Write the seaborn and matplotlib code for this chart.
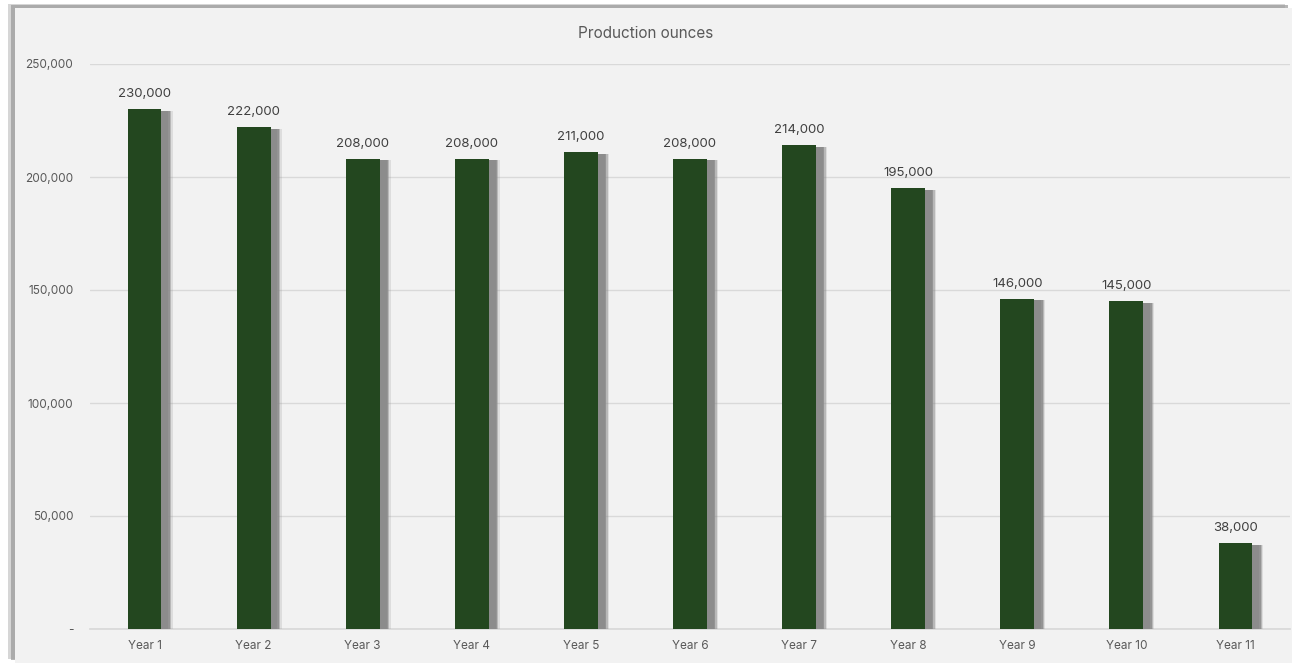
import matplotlib
matplotlib.use("Agg")
import matplotlib.pyplot as plt
import matplotlib.patheffects as pe
from matplotlib.patches import Rectangle
import seaborn as sns
import pandas as pd

# data
years = ["Year 1", "Year 2", "Year 3", "Year 4", "Year 5", "Year 6",
         "Year 7", "Year 8", "Year 9", "Year 10", "Year 11"]
ounces = [230000, 222000, 208000, 208000, 211000, 208000,
          214000, 195000, 146000, 145000, 38000]
yticks = [0, 50000, 100000, 150000, 200000, 250000]
ytick_labels = ["-", "50,000", "100,000", "150,000", "200,000", "250,000"]

df = pd.DataFrame({"year": years, "ounces": ounces})

sns.set_theme(style="white")
plt.rcParams['font.family'] = ['Inter', 'DejaVu Sans']

fig = plt.figure(figsize=(12.92, 6.63), dpi=100, facecolor="white")

# chart card with a soft shadow on the left/top
card = Rectangle((15 / 1292, 0), 1 - 15 / 1292, 1 - 8 / 663,
                 transform=fig.transFigure, facecolor="#f2f2f2",
                 edgecolor="none", zorder=-10,
                 path_effects=[pe.SimplePatchShadow(offset=(-5, 3), shadow_rgbFace="#bbbbbb", alpha=0.6),
                               pe.SimplePatchShadow(offset=(-3, 2), shadow_rgbFace="#999999", alpha=0.7),
                               pe.Normal()])
fig.patches.append(card)

ax = fig.add_axes([90 / 1292, 1 - 629 / 663, 1 - 92 / 1292, (629 - 64) / 663])
ax.set_facecolor("none")
ax.set_zorder(1)

sns.barplot(data=df, x="year", y="ounces", color="#23471f", width=0.31,
            saturation=1, linewidth=0, ax=ax, zorder=3)

# soft drop shadow, faked with a few stacked offsets (points)
shadow = [pe.SimplePatchShadow(offset=(o, -1), shadow_rgbFace=c, alpha=a)
          for o, c, a in [(8, "#8c8c8c", 0.2), (7, "#8c8c8c", 0.45),
                          (6, "#8c8c8c", 0.8), (5, "#8c8c8c", 1.0)]]
for p in ax.patches:
    p.set_path_effects(shadow + [pe.Normal()])

for i, v in enumerate(ounces):
    ax.text(i, v + 4000, f"{v:,}", ha="center", va="bottom",
            fontsize=9.5, color="#404040")

ax.set_ylim(0, 250000)
ax.set_xlim(-0.5, 10.5)
ax.set_yticks(yticks)
ax.set_yticklabels(ytick_labels)
ax.yaxis.grid(True, color="#d9d9d9", linewidth=1)
ax.set_axisbelow(True)
for s in ["top", "right", "left"]:
    ax.spines[s].set_visible(False)
ax.spines["bottom"].set_color("#d9d9d9")
ax.tick_params(axis="both", length=0, labelsize=8.5, labelcolor="#595959")
ax.tick_params(axis="y", pad=12)
ax.tick_params(axis="x", pad=8)
ax.set_xlabel("")
ax.set_ylabel("")

fig.text(0.5, 1 - 33 / 663, "Production ounces", ha="center", va="center",
         fontsize=11, color="#595959")

fig.savefig("out.png", dpi=100, facecolor=fig.get_facecolor())
